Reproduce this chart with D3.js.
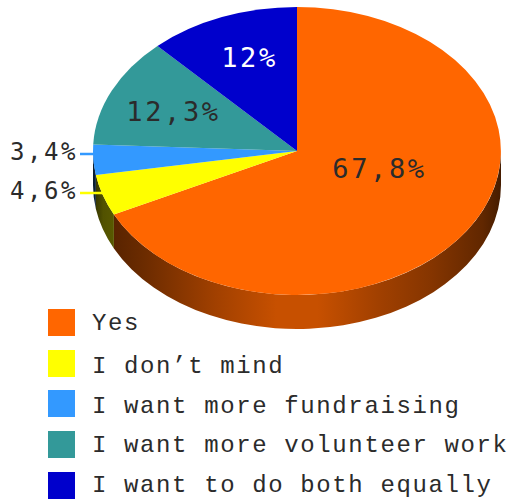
<!DOCTYPE html>
<html><head><meta charset="utf-8">
<script src="https://cdn.jsdelivr.net/npm/d3@7"></script>
<style>html,body{margin:0;padding:0;background:#fff}svg{display:block}
text{font-family:"Liberation Mono",monospace;fill:#2b2b2b}</style></head>
<body><svg id="c" width="509" height="500"></svg>
<script>
const categories=["Yes","I don’t mind","I want more fundraising","I want more volunteer work","I want to do both equally"];
const values=[67.8,4.6,3.4,12.3,12];
const valueLabels=["67,8%","4,6%","3,4%","12,3%","12%"];
const colors=["#ff6600","#ffff00","#3399ff","#339999","#0000cc"];
const labelColors=["#2b2b2b","#2b2b2b","#2b2b2b","#2b2b2b","#ffffff"];

const svg=d3.select("#c");
const cx=297,cy=151,rx=204,ry=144,depth=34;
const pie=d3.pie().sort(null).value(d=>d);
const arcs=pie(values);
const px=a=>cx+rx*Math.sin(a), py=a=>cy-ry*Math.cos(a);

const shade=[[0,.18],[.025,.32],[.122,.42],[.3,.63],[.45,.78],[.55,.78],[.7,.63],[.83,.52],[.955,.38],[1,.27]];
const defs=svg.append("defs");
colors.forEach((c,i)=>{
  const g=defs.append("linearGradient").attr("id","g"+i).attr("gradientUnits","userSpaceOnUse")
    .attr("x1",cx-rx).attr("x2",cx+rx).attr("y1",0).attr("y2",0);
  const rgb=d3.rgb(c);
  shade.forEach(([o,m])=>g.append("stop").attr("offset",o)
    .attr("stop-color",d3.rgb(rgb.r*m,rgb.g*m,rgb.b*m).formatRgb()));
});

const lo=Math.PI/2,hi=Math.PI*1.5;
arcs.forEach((d,i)=>{
  const a=Math.max(d.startAngle,lo),b=Math.min(d.endAngle,hi);
  if(b<=a) return;
  const p=`M${px(a)},${py(a)}A${rx},${ry} 0 0 1 ${px(b)},${py(b)}`+
    `L${px(b)},${py(b)+depth}A${rx},${ry} 0 0 0 ${px(a)},${py(a)+depth}Z`;
  svg.append("path").attr("d",p).attr("fill",`url(#g${i})`);
});

const arc=d3.arc().innerRadius(0).outerRadius(1);
svg.append("g").attr("transform",`translate(${cx},${cy}) scale(${rx},${ry})`)
  .selectAll("path").data(arcs).join("path").attr("d",arc).attr("fill",(d,i)=>colors[i]);

const labelAt=[[379.5,178],[44,199],[44,160],[173.5,121],[249.5,67]];
const labelSize=[27,24,24,27,27];
const labelGap=[2.6,2.5,2.5,2.6,2.6];
const leaders={1:[80,103,193],2:[80,94,154]};
Object.entries(leaders).forEach(([i,[x1,x2,y]])=>svg.append("line")
  .attr("x1",x1).attr("x2",x2).attr("y1",y).attr("y2",y).attr("stroke",colors[i]).attr("stroke-width",2.5));
svg.selectAll("text.v").data(valueLabels).join("text").attr("class","v")
  .attr("x",(d,i)=>labelAt[i][0]).attr("y",(d,i)=>labelAt[i][1]).attr("text-anchor","middle")
  .style("font-family","'DejaVu Sans Mono',monospace")
  .style("font-size",(d,i)=>labelSize[i]+"px").style("letter-spacing",(d,i)=>labelGap[i]+"px")
  .style("fill",(d,i)=>labelColors[i]).text(d=>d);

const rowY=[309,350,390,431,472];
const textY=[330,373,413,452,492];
const leg=svg.append("g");
categories.forEach((c,i)=>{
  leg.append("rect").attr("x",48).attr("y",rowY[i]).attr("width",27).attr("height",27).attr("fill",colors[i]);
  leg.append("text").attr("x",92).attr("y",textY[i]).style("font-size","24px").style("letter-spacing","1.62px").text(c);
});
</script></body></html>
